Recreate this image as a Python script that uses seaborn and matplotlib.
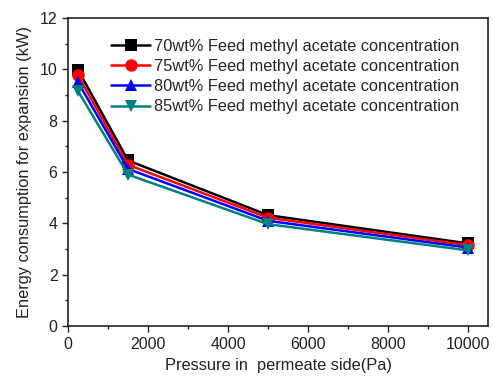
import matplotlib
matplotlib.use("Agg")
import matplotlib.pyplot as plt
import seaborn as sns
import pandas as pd
from matplotlib.ticker import MultipleLocator

pressure = [250, 1500, 5000, 10000]
series_names = [
    "70wt% Feed methyl acetate concentration",
    "75wt% Feed methyl acetate concentration",
    "80wt% Feed methyl acetate concentration",
    "85wt% Feed methyl acetate concentration",
]
e70 = [9.98, 6.45, 4.32, 3.22]
e75 = [9.76, 6.28, 4.22, 3.15]
e80 = [9.50, 6.12, 4.10, 3.06]
e85 = [9.15, 5.90, 3.97, 2.95]

colors = ["#000000", "#ff0000", "#0000ff", "#008080"]
markers = ["s", "o", "^", "v"]

rows = []
for name, vals in zip(series_names, [e70, e75, e80, e85]):
    for x, y in zip(pressure, vals):
        rows.append({"Pressure": x, "Energy": y, "Series": name})
df = pd.DataFrame(rows)

sns.set_style("ticks")
plt.rcParams["font.family"] = ["Liberation Sans", "DejaVu Sans"]

fig = plt.figure(figsize=(4.93, 3.81), dpi=100)
ax = fig.add_axes([0.138, 0.144, 0.852, 0.809])

sns.lineplot(data=df, x="Pressure", y="Energy", hue="Series", style="Series",
             palette=dict(zip(series_names, colors)),
             markers=dict(zip(series_names, markers)),
             dashes=False, markersize=9, linewidth=1.8,
             markeredgewidth=0, ax=ax)

ax.set_xlim(0, 10500)
ax.set_ylim(0, 12)
ax.xaxis.set_major_locator(MultipleLocator(2000))
ax.xaxis.set_minor_locator(MultipleLocator(1000))
ax.yaxis.set_major_locator(MultipleLocator(2))
ax.yaxis.set_minor_locator(MultipleLocator(1))
ax.tick_params(which="major", direction="out", length=4, width=1, labelsize=11.5, colors="#222222")
ax.tick_params(which="minor", direction="out", length=2.5, width=1)
for s in ax.spines.values():
    s.set_linewidth(1.2)
    s.set_color("#222222")

ax.set_xlabel("Pressure in  permeate side(Pa)", fontsize=11.8, color="#222222", labelpad=5)
ax.set_ylabel("Energy consumption for expansion (kW)", fontsize=11.8, color="#222222", labelpad=6)

leg = ax.legend(loc="upper right", frameon=False, fontsize=11.8,
                handlelength=2.4, handletextpad=0.25, labelspacing=0.32,
                borderaxespad=0.3, bbox_to_anchor=(0.96, 0.97))

fig.savefig("out.png", dpi=100)
